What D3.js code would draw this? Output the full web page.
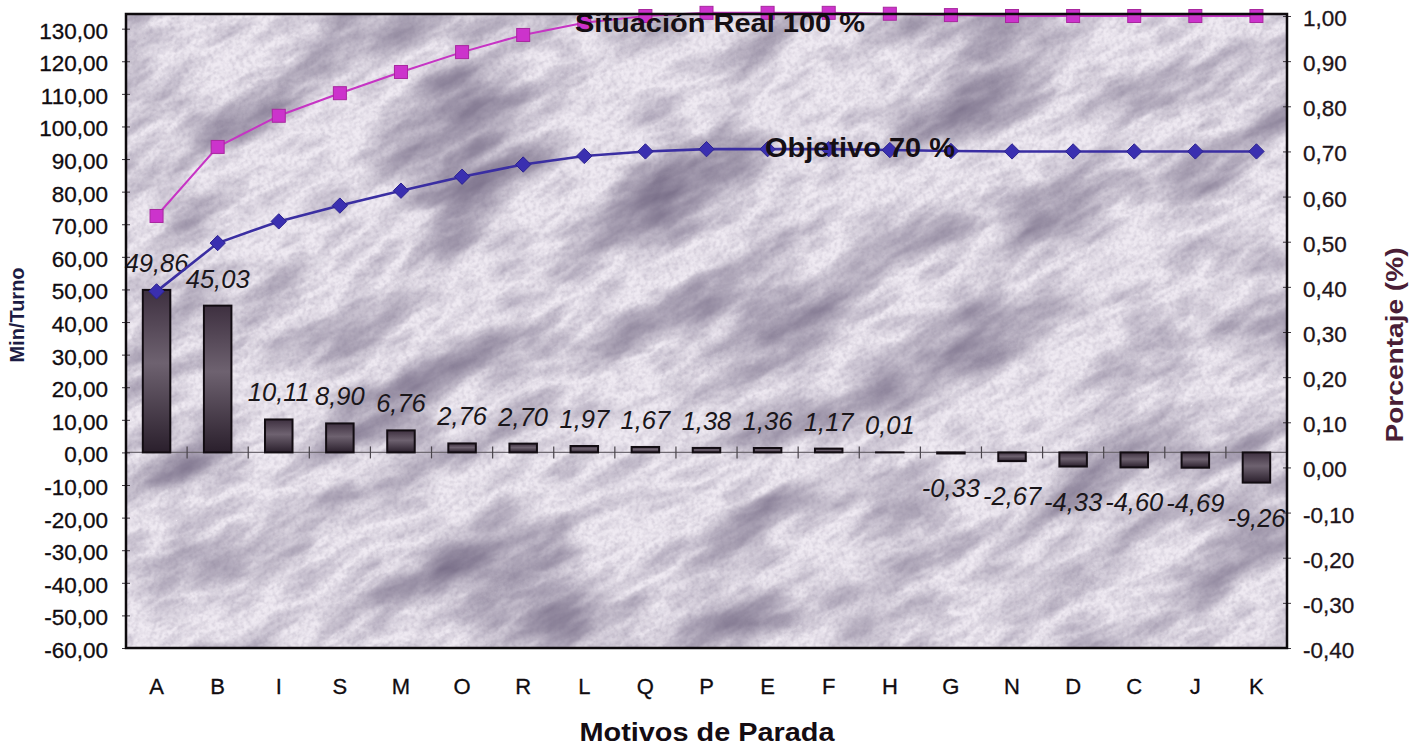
<!DOCTYPE html>
<html>
<head>
<meta charset="utf-8">
<script src="https://cdn.jsdelivr.net/npm/d3@7"></script>
<style>
  html, body { margin: 0; padding: 0; background: #ffffff; }
  svg { display: block; }
  text { font-family: "Liberation Sans", Arial, sans-serif; }
</style>
</head>
<body>
<svg id="chart" width="1414" height="749"></svg>
<script>
// Stoppage reasons (Pareto order)
const categories = ["A","B","I","S","M","O","R","L","Q","P","E","F","H","G","N","D","C","J","K"];
// Minutes per shift for each reason
const minutes = [49.86, 45.03, 10.11, 8.90, 6.76, 2.76, 2.70, 1.97, 1.67, 1.38, 1.36, 1.17, 0.01,
                 -0.33, -2.67, -4.33, -4.60, -4.69, -9.26];
// Cumulative share, real situation (100 %)
const situacionReal = [0.557, 0.710, 0.779, 0.829, 0.876, 0.920, 0.958, 0.985, 1.000, 1.007,
                       1.007, 1.007, 1.005, 1.002, 1.000, 1.000, 1.000, 1.000, 1.000];
// Cumulative share, target (70 %)
const objetivo = [0.390, 0.497, 0.545, 0.580, 0.613, 0.644, 0.671, 0.690, 0.700, 0.705,
                  0.705, 0.705, 0.703, 0.701, 0.700, 0.700, 0.700, 0.700, 0.700];
// Axis ticks
const leftTicks = [-60, -50, -40, -30, -20, -10, 0, 10, 20, 30, 40, 50, 60, 70, 80, 90, 100, 110, 120, 130];
const rightTicks = [-0.4, -0.3, -0.2, -0.1, 0, 0.1, 0.2, 0.3, 0.4, 0.5, 0.6, 0.7, 0.8, 0.9, 1.0];

const plot = { left: 126, right: 1287, top: 14, bottom: 648 };

const locale = d3.formatLocale({ decimal: ",", thousands: ".", grouping: [3], currency: ["", ""], minus: "-" });
const fmt2 = locale.format(".2f");

const svg = d3.select("#chart");
const defs = svg.append("defs");

// Marble-like plot background
const marble = defs.append("filter").attr("id", "marble")
  .attr("x", 0).attr("y", 0).attr("width", "100%").attr("height", "100%")
  .attr("color-interpolation-filters", "sRGB");
marble.append("feTurbulence").attr("type", "fractalNoise").attr("baseFrequency", "0.006 0.018")
  .attr("numOctaves", 5).attr("seed", 4).attr("result", "n1");
marble.append("feColorMatrix").attr("in", "n1").attr("type", "matrix")
  .attr("values", "0 0 0 0 0.48  0 0 0 0 0.44  0 0 0 0 0.54  2.3 0 0 0 -1.05").attr("result", "veins");
marble.append("feTurbulence").attr("type", "turbulence").attr("baseFrequency", "0.015 0.04")
  .attr("numOctaves", 4).attr("seed", 11).attr("result", "n2");
marble.append("feColorMatrix").attr("in", "n2").attr("type", "matrix")
  .attr("values", "0 0 0 0 0.52  0 0 0 0 0.48  0 0 0 0 0.58  0.75 0 0 0 -0.14").attr("result", "streaks");
marble.append("feTurbulence").attr("type", "fractalNoise").attr("baseFrequency", "0.25")
  .attr("numOctaves", 2).attr("seed", 2).attr("result", "n3");
marble.append("feColorMatrix").attr("in", "n3").attr("type", "matrix")
  .attr("values", "0 0 0 0 0.5  0 0 0 0 0.46  0 0 0 0 0.56  0.5 0 0 0 -0.2").attr("result", "grain");
const merge = marble.append("feMerge");
merge.append("feMergeNode").attr("in", "SourceGraphic");
merge.append("feMergeNode").attr("in", "streaks");
merge.append("feMergeNode").attr("in", "veins");
merge.append("feMergeNode").attr("in", "grain");

defs.append("clipPath").attr("id", "plotClip").append("rect")
  .attr("x", plot.left).attr("y", plot.top)
  .attr("width", plot.right - plot.left).attr("height", plot.bottom - plot.top);

// Bar shading
const grad = defs.append("linearGradient").attr("id", "barGrad")
  .attr("x1", 0).attr("y1", 0).attr("x2", 0).attr("y2", 1);
grad.append("stop").attr("offset", "0%").attr("stop-color", "#3e3040");
grad.append("stop").attr("offset", "45%").attr("stop-color", "#6e6270");
grad.append("stop").attr("offset", "100%").attr("stop-color", "#2a1f2c");

// Scales
const x = d3.scaleBand().domain(categories).range([plot.left, plot.right]).padding(0);
const yL = d3.scaleLinear().domain([-60, 134.5]).range([plot.bottom, plot.top]);
const yR = d3.scaleLinear().domain([-0.4, 1.0]).range([plot.bottom, plot.top + 2]);

// Background
const bg = svg.append("g").attr("clip-path", "url(#plotClip)");
bg.append("rect")
  .attr("x", plot.left).attr("y", plot.top)
  .attr("width", plot.right - plot.left).attr("height", plot.bottom - plot.top)
  .attr("fill", "#efeaf2");
bg.append("g")
  .attr("transform", `rotate(-28 ${(plot.left + plot.right) / 2} ${(plot.top + plot.bottom) / 2})`)
  .append("rect")
  .attr("x", plot.left - 300).attr("y", plot.top - 500)
  .attr("width", plot.right - plot.left + 600).attr("height", plot.bottom - plot.top + 1000)
  .attr("fill", "#efeaf2")
  .attr("filter", "url(#marble)");

// Zero line with category dividers
const zeroY = yL(0);
svg.append("line")
  .attr("x1", plot.left).attr("x2", plot.right)
  .attr("y1", zeroY).attr("y2", zeroY)
  .attr("stroke", "#6f6a72").attr("stroke-width", 1.2);
svg.append("g").selectAll("line")
  .data(categories.slice(1))
  .join("line")
  .attr("x1", d => x(d)).attr("x2", d => x(d))
  .attr("y1", zeroY - 6).attr("y2", zeroY + 6)
  .attr("stroke", "#4a454c").attr("stroke-width", 1.2);

// Bars
const barW = x.bandwidth() * 0.45;
svg.append("g").selectAll("rect")
  .data(categories.map((c, i) => ({ c, v: minutes[i] })))
  .join("rect")
  .attr("x", d => x(d.c) + (x.bandwidth() - barW) / 2)
  .attr("y", d => Math.min(yL(d.v), zeroY))
  .attr("width", barW)
  .attr("height", d => Math.abs(yL(d.v) - zeroY))
  .attr("fill", "url(#barGrad)")
  .attr("stroke", "#120c12").attr("stroke-width", 2);

// Bar value labels
svg.append("g").selectAll("text")
  .data(categories.map((c, i) => ({ c, v: minutes[i] })))
  .join("text")
  .attr("x", d => x(d.c) + x.bandwidth() / 2)
  .attr("y", d => d.v >= 0 ? yL(d.v) - 18 : yL(d.v) + 44)
  .attr("text-anchor", "middle")
  .attr("font-size", 25.5).attr("font-style", "italic")
  .attr("fill", "#1a161a")
  .text(d => fmt2(d.v));

// Cumulative lines
const lineGen = arr => d3.line()
  .x((d, i) => x(categories[i]) + x.bandwidth() / 2)
  .y(d => yR(d))(arr);

svg.append("path").attr("d", lineGen(objetivo))
  .attr("fill", "none").attr("stroke", "#3a2ea2").attr("stroke-width", 2.6);
svg.append("g").selectAll("path")
  .data(objetivo)
  .join("path")
  .attr("transform", (d, i) => `translate(${x(categories[i]) + x.bandwidth() / 2},${yR(d)})`)
  .attr("d", d3.symbol(d3.symbolDiamond2, 150)())
  .attr("fill", "#3a2fb0").attr("stroke", "#2c2290").attr("stroke-width", 1);

svg.append("path").attr("d", lineGen(situacionReal))
  .attr("fill", "none").attr("stroke", "#c634c4").attr("stroke-width", 2);
svg.append("g").selectAll("rect")
  .data(situacionReal)
  .join("rect")
  .attr("x", (d, i) => x(categories[i]) + x.bandwidth() / 2 - 6.5)
  .attr("y", d => yR(d) - 6.5)
  .attr("width", 13).attr("height", 13)
  .attr("fill", "#cc33cc").attr("stroke", "#a8279f").attr("stroke-width", 1);

// Series annotations
svg.append("text")
  .attr("x", 575).attr("y", 32)
  .attr("font-size", 26).attr("font-weight", "bold").attr("fill", "#150f14")
  .attr("textLength", 290).attr("lengthAdjust", "spacingAndGlyphs")
  .text("Situación Real 100 %");
svg.append("text")
  .attr("x", 765).attr("y", 157)
  .attr("font-size", 27).attr("font-weight", "bold").attr("fill", "#150f14")
  .attr("textLength", 190).attr("lengthAdjust", "spacingAndGlyphs")
  .text("Objetivo 70 %");

// Left axis
const axL = svg.append("g").attr("transform", `translate(${plot.left},0)`)
  .call(d3.axisLeft(yL).tickValues(leftTicks).tickFormat(fmt2).tickSizeInner(8).tickSizeOuter(0).tickPadding(10));
axL.select(".domain").remove();
axL.selectAll(".tick line").attr("x1", 4).attr("x2", -4).attr("stroke", "#3a343c");
axL.selectAll(".tick text").attr("font-size", 22.5).attr("fill", "#100c10")
  .attr("stroke", "#100c10").attr("stroke-width", 0.3)
  .attr("font-family", "'Liberation Sans', Arial, sans-serif").attr("dy", "0.42em");

// Right axis
const axR = svg.append("g").attr("transform", `translate(${plot.right},0)`)
  .call(d3.axisRight(yR).tickValues(rightTicks).tickFormat(fmt2).tickSizeInner(6).tickSizeOuter(0).tickPadding(10));
axR.select(".domain").remove();
axR.selectAll(".tick line").attr("x1", -4).attr("x2", 4).attr("stroke", "#3a343c");
axR.selectAll(".tick text").attr("font-size", 22.5).attr("fill", "#1e1419")
  .attr("stroke", "#1e1419").attr("stroke-width", 0.3)
  .attr("font-family", "'Liberation Sans', Arial, sans-serif").attr("dy", "0.42em");

// Category axis labels
const axB = svg.append("g").attr("transform", `translate(0,${plot.bottom})`)
  .call(d3.axisBottom(x).tickSize(0).tickPadding(30));
axB.select(".domain").remove();
axB.selectAll(".tick text").attr("font-size", 22).attr("fill", "#100c10")
  .attr("stroke", "#100c10").attr("stroke-width", 0.3)
  .attr("font-family", "'Liberation Sans', Arial, sans-serif");

// Plot frame
svg.append("rect")
  .attr("x", plot.left).attr("y", plot.top)
  .attr("width", plot.right - plot.left).attr("height", plot.bottom - plot.top)
  .attr("fill", "none").attr("stroke", "#0d0a0d").attr("stroke-width", 2.5);

// Axis titles
svg.append("text")
  .attr("transform", "translate(707,741)")
  .attr("text-anchor", "middle")
  .attr("font-size", 26).attr("font-weight", "bold").attr("fill", "#140c12")
  .attr("textLength", 255).attr("lengthAdjust", "spacingAndGlyphs")
  .text("Motivos de Parada");
svg.append("text")
  .attr("transform", "translate(1403,345) rotate(-90)")
  .attr("text-anchor", "middle")
  .attr("font-size", 24).attr("font-weight", "bold").attr("fill", "#4a1e36")
  .attr("textLength", 195).attr("lengthAdjust", "spacingAndGlyphs")
  .text("Porcentaje (%)");
svg.append("text")
  .attr("transform", "translate(24,315) rotate(-90)")
  .attr("text-anchor", "middle")
  .attr("font-size", 20).attr("font-weight", "bold").attr("fill", "#1c1c44")
  .text("Min/Turno");
</script>
</body>
</html>
